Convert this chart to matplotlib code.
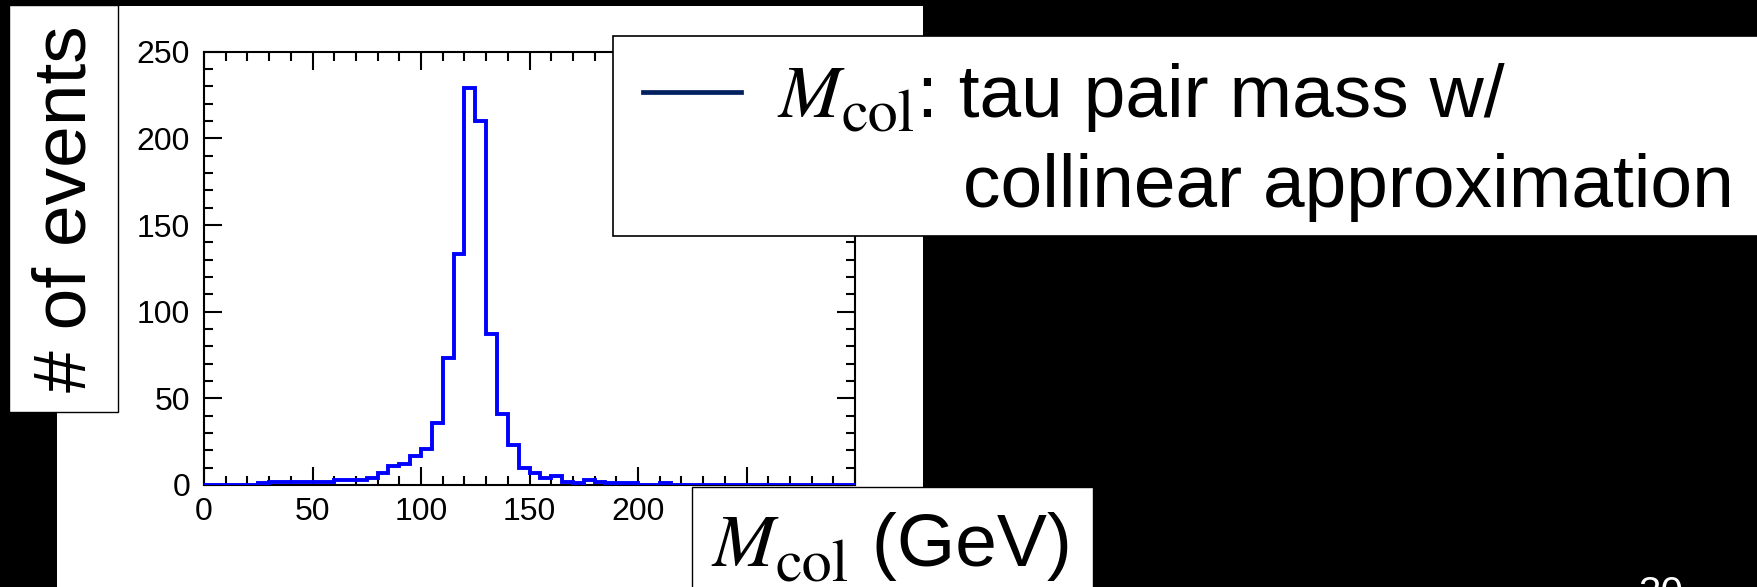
import numpy as np
import matplotlib
matplotlib.use("Agg")
import matplotlib.pyplot as plt
from matplotlib.patches import Rectangle
from matplotlib.lines import Line2D
from matplotlib.ticker import MultipleLocator

plt.rcParams['font.family'] = ['Liberation Sans', 'DejaVu Sans']

# histogram of the collinear mass, 5 GeV bins from 0 to 300
bin_edges = list(range(0, 305, 5))
counts = [0, 0, 0, 0, 0, 1, 2, 2, 2, 2,
          2, 2, 3, 3, 3, 4, 7, 11, 12, 17,
          21, 36, 73, 133, 229, 210, 87, 41, 23, 10,
          7, 4, 5, 2, 1, 3, 2, 1, 1, 1,
          0, 0, 1, 0, 0, 0, 0, 0, 0, 0,
          0, 0, 0, 0, 0, 0, 0, 0, 0, 0]
x_ticks = [0, 50, 100, 150, 200, 250, 300]
# 250 and 300 sit under the x title box on the slide, so they stay blank
x_tick_labels = ['0', '50', '100', '150', '200', '', '']
y_ticks = [0, 50, 100, 150, 200, 250]

mass_symbol = "M"
mass_subscript = "col"
legend_rest1 = ": tau pair mass w/"
legend_line2 = "collinear approximation"
x_label_rest = " (GeV)"
y_label = "# of events"
page_number = "30"

W, H = 1758, 587


def fx(px):
    return px / W


def fy(py):
    return 1 - py / H


fig = plt.figure(figsize=(W / 100, H / 100), dpi=100, facecolor='black')
renderer = fig.canvas.get_renderer()


def mass_text(x0, base, rest, size=54):
    """Italic M with a big upright 'col' subscript (like Cambria Math), then plain text."""
    t = fig.text(fx(x0), fy(base), mass_symbol, ha='left', va='baseline',
                 fontsize=size, family='STIXGeneral', style='italic', zorder=3)
    x1 = t.get_window_extent(renderer).x1 + 1
    t = fig.text(fx(x1), fy(base + 15), mass_subscript, ha='left', va='baseline',
                 fontsize=size * 0.8, family='STIXGeneral', zorder=3)
    x2 = t.get_window_extent(renderer).x1 + 2
    fig.text(fx(x2), fy(base), rest, ha='left', va='baseline',
             fontsize=size, zorder=3)


# white area of the pasted plot image
fig.add_artist(Rectangle((fx(57), fy(587)), fx(923) - fx(57), fy(6) - fy(587),
                         transform=fig.transFigure, facecolor='white',
                         edgecolor='none', zorder=-1))

ax = fig.add_axes([fx(204), fy(485), fx(855) - fx(204), fy(51.7) - fy(485)])
ax.stairs(counts, bin_edges, color='#0000ff', linewidth=2.8, zorder=3)

ax.set_xlim(0, 300)
ax.set_ylim(0, 250)
ax.set_xticks(x_ticks)
ax.set_xticklabels(x_tick_labels)
ax.set_yticks(y_ticks)
ax.xaxis.set_minor_locator(MultipleLocator(10))
ax.yaxis.set_minor_locator(MultipleLocator(10))
ax.tick_params(which='both', direction='in', top=True, right=True, width=1.5)
ax.tick_params(which='major', length=12.7, labelsize=23)
ax.tick_params(axis='x', which='major', pad=9)
ax.tick_params(axis='y', which='major', pad=10)
ax.tick_params(which='minor', length=6.7)
for sp in ax.spines.values():
    sp.set_linewidth(1.5)

# y axis title box
fig.add_artist(Rectangle((fx(9), fy(412)), fx(118) - fx(9), fy(5) - fy(412),
                         transform=fig.transFigure, facecolor='white',
                         edgecolor='black', linewidth=1.0, zorder=1))
fig.text(fx(66), fy(209), y_label, rotation=90, ha='center', va='center',
         fontsize=54, color='black', zorder=3)

# legend box (runs off the right edge)
fig.add_artist(Rectangle((fx(613), fy(236)), fx(1765) - fx(613), fy(35.7) - fy(236),
                         transform=fig.transFigure, facecolor='white',
                         edgecolor='black', linewidth=1.2, zorder=1))
fig.add_artist(Line2D([fx(643), fx(741)], [fy(92), fy(92)],
                      transform=fig.transFigure, color='#002060',
                      linewidth=3.4, zorder=2))
mass_text(778, 117, legend_rest1)
fig.text(fx(963), fy(207), legend_line2, ha='left', va='baseline',
         fontsize=54, color='black', zorder=3)

# x axis title box
fig.add_artist(Rectangle((fx(692), fy(595)), fx(1093) - fx(692), fy(487) - fy(595),
                         transform=fig.transFigure, facecolor='white',
                         edgecolor='black', linewidth=1.0, zorder=1))
mass_text(712, 566, x_label_rest)

# slide number, cut off at the bottom
fig.text(fx(1661), fy(575), page_number, ha='center', va='top',
         fontsize=29, color='white', zorder=3)

fig.savefig('out.png', dpi=100, facecolor='black')
